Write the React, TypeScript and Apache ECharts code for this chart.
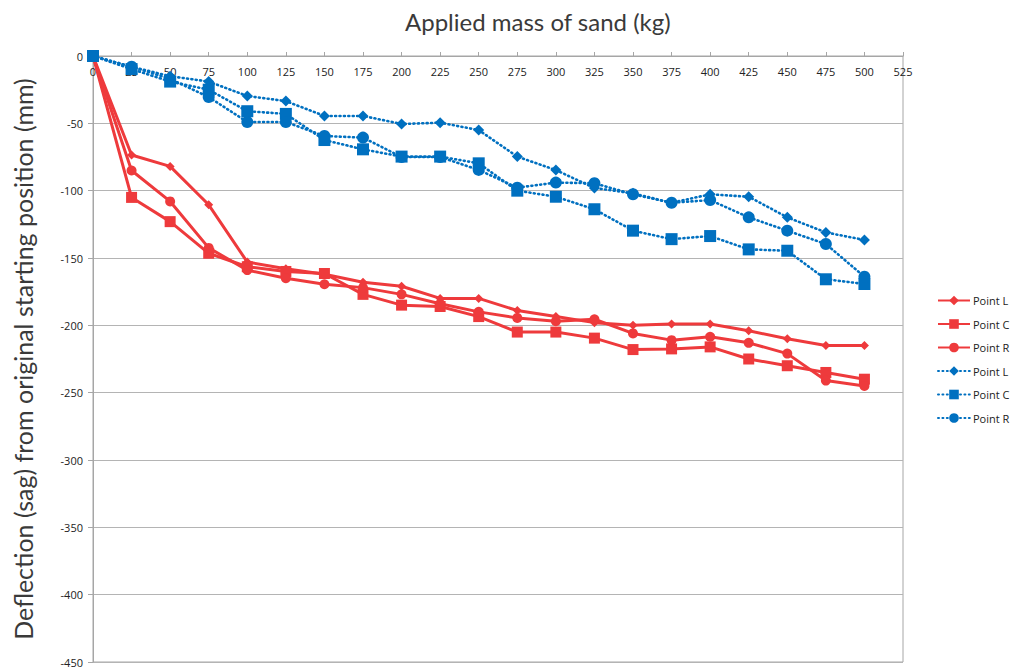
import React, { useEffect, useRef } from "react";
import * as echarts from "echarts";

const massKg = [0, 25, 50, 75, 100, 125, 150, 175, 200, 225, 250, 275, 300, 325, 350, 375, 400, 425, 450, 475, 500];

const redL = [0, -73.5, -82, -110.5, -153, -158, -162, -168, -171, -180, -180, -189, -193.5, -198, -200, -199, -199, -204, -210, -215, -215];
const redC = [0, -105, -123, -146.5, -156.5, -160, -161.5, -177, -185, -186, -193.5, -205, -205, -209.5, -218, -217.5, -216, -225, -230, -235, -240];
const redR = [0, -85, -108, -142.5, -159, -165, -169.5, -172, -177, -184, -190, -194.5, -197, -195.5, -206, -211, -208.5, -213, -221, -241, -245];

const blueL = [0, -8, -15, -19, -29.7, -33.5, -44.5, -44.5, -50.5, -49.5, -55, -74.7, -84.7, -98, -102, -109, -102.7, -104.5, -119.8, -131, -136.6];
const blueC = [0, -9.7, -19, -25, -41, -43, -62.4, -69.3, -74.7, -74.7, -79.7, -100, -104.5, -113.8, -129.7, -136, -133.7, -143.6, -144.6, -165.8, -169.3];
const blueR = [0, -8, -17, -30.5, -49, -49, -59.4, -60.6, -75, -75, -84.6, -97.8, -94, -94.5, -102.7, -109, -107, -119.8, -129.7, -139.6, -163.9];

const legendNames: Record<string, string> = {
  redL: "Point L",
  redC: "Point C",
  redR: "Point R",
  blueL: "Point L",
  blueC: "Point C",
  blueR: "Point R",
};

const RED = "#EE3A3C";
const BLUE = "#0070C0";

function pairs(vals: number[]) {
  return massKg.map((x, i) => [x, vals[i]]);
}

export default function App() {
  const ref = useRef<HTMLDivElement>(null);
  useEffect(() => {
    if (!ref.current) return;
    const chart = echarts.init(ref.current, undefined, { renderer: "svg" });
    const redSeries = (id: string, vals: number[], symbol: string, size: number) => ({
      id,
      name: id,
      type: "line",
      data: pairs(vals),
      symbol,
      symbolSize: size,
      showAllSymbol: true,
      lineStyle: { color: RED, width: 3 },
      itemStyle: { color: RED },
      z: 3,
    });
    const blueSeries = (id: string, vals: number[], symbol: string, size: number) => ({
      id,
      name: id,
      type: "line",
      data: pairs(vals),
      symbol,
      symbolSize: size,
      showAllSymbol: true,
      lineStyle: { color: BLUE, width: 2.6, type: [1, 3.4], cap: "round" },
      itemStyle: { color: BLUE },
      z: 4,
    });
    chart.setOption({
      animation: false,
      backgroundColor: "#ffffff",
      textStyle: { fontFamily: "Open Sans" },
      title: {
        text: "Applied mass of sand (kg)",
        left: 400,
        top: 4,
        textStyle: { fontFamily: "Lato", fontSize: 24, fontWeight: "normal", color: "#3a3a3a" },
      },
      grid: {
        left: 93,
        right: 108,
        top: 56,
        bottom: 8,
        show: true,
        borderColor: "#a6a6a6",
        borderWidth: 1,
      },
      legend: {
        orient: "vertical",
        left: 932,
        top: 290,
        itemGap: 12.5,
        itemWidth: 32,
        itemHeight: 12,
        data: ["redL", "redC", "redR", "blueL", "blueC", "blueR"],
        formatter: (n: string) => legendNames[n] || n,
        textStyle: { fontFamily: "Open Sans", fontSize: 11, color: "#222", padding: [0, 0, 0, -2] },
      },
      xAxis: {
        type: "value",
        min: 0,
        max: 525,
        interval: 25,
        position: "top",
        axisLine: { show: true, onZero: false, lineStyle: { color: "#a6a6a6" } },
        axisTick: { show: true, inside: false, length: 4, lineStyle: { color: "#a6a6a6" } },
        axisLabel: { inside: true, fontFamily: "Open Sans", fontSize: 11, color: "#222", margin: 10 },
        splitLine: { show: false },
      },
      yAxis: {
        type: "value",
        min: -450,
        max: 0,
        interval: 50,
        name: "Deflection (sag) from original starting position (mm)",
        nameLocation: "middle",
        nameGap: 58,
        nameTextStyle: { fontFamily: "Lato", fontSize: 25, color: "#3a3a3a" },
        axisLine: { show: true, lineStyle: { color: "#a6a6a6" } },
        axisTick: { show: true, length: 5, lineStyle: { color: "#a6a6a6" } },
        axisLabel: { fontFamily: "Open Sans", fontSize: 11, color: "#222", margin: 10 },
        splitLine: { show: true, lineStyle: { color: "#b4b4b4", width: 1.2 } },
      },
      series: [
        redSeries("redL", redL, "diamond", 9),
        redSeries("redC", redC, "rect", 11),
        redSeries("redR", redR, "circle", 10),
        blueSeries("blueL", blueL, "diamond", 11),
        blueSeries("blueC", blueC, "rect", 12),
        blueSeries("blueR", blueR, "circle", 12),
      ],
    });
    return () => chart.dispose();
  }, []);
  return <div ref={ref} style={{ width: 1011, height: 670, position: "absolute", left: 0, top: 0 }} />;
}
